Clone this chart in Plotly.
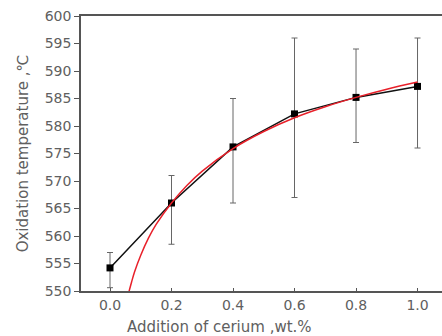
import plotly.graph_objects as go

# Measured data
cerium = [0.0, 0.2, 0.4, 0.6, 0.8, 1.0]
temperature = [554.2, 566.0, 576.2, 582.2, 585.2, 587.2]
err_plus = [2.8, 5.0, 8.8, 13.8, 8.8, 8.8]
err_minus = [3.6, 7.5, 10.2, 15.2, 8.2, 11.2]

# Fitted curve
fit_x = [0.052, 0.06, 0.07, 0.08, 0.1, 0.125, 0.15, 0.2, 0.25, 0.3, 0.4, 0.5, 0.6, 0.7, 0.8, 0.9, 1.0]
fit_y = [547.6, 549.5, 551.6, 553.5, 556.5, 559.6, 562.1, 566.0, 569.2, 571.8, 575.9, 579.0, 581.5, 583.5, 585.2, 586.7, 588.0]

x_ticks = [0.0, 0.2, 0.4, 0.6, 0.8, 1.0]
y_ticks = [550, 555, 560, 565, 570, 575, 580, 585, 590, 595, 600]
x_title = "Addition of cerium ,wt.%"
y_title = "Oxidation temperature ,\u2103"

text_col = "#606060"
axis_col = "#555555"

fig = go.Figure()
fig.add_trace(go.Scatter(
    x=cerium, y=temperature, mode="lines+markers",
    line=dict(color="#111111", width=1.5),
    marker=dict(symbol="square", size=7, color="#000000"),
    error_y=dict(type="data", symmetric=False, array=err_plus, arrayminus=err_minus,
                 color="#666666", thickness=1, width=3),
    showlegend=False, cliponaxis=True,
))
fig.add_trace(go.Scatter(
    x=fit_x, y=fit_y, mode="lines",
    line=dict(color="#e8202a", width=1.5, shape="spline"),
    showlegend=False,
))

fig.update_layout(
    width=442, height=336,
    margin=dict(l=81, r=0, t=16, b=45),
    plot_bgcolor="white", paper_bgcolor="white",
    font=dict(family="DejaVu Sans, sans-serif", size=14, color=text_col),
)
# x-axis title: the original figure is cropped on the right, so its title sits left of the visible centre
fig.add_annotation(
    text=x_title, xref="paper", yref="paper", x=0.385, y=-0.131,
    xanchor="center", yanchor="middle", showarrow=False,
    font=dict(size=15, color=text_col),
)
fig.update_xaxes(
    range=[-0.0943, 1.0796], tickvals=x_ticks, ticktext=[f"{v:.1f}" for v in x_ticks],
    ticks="inside", ticklen=3, tickwidth=1, tickcolor=axis_col,
    showline=True, linecolor=axis_col, linewidth=1.5, mirror=True,
    showgrid=False, zeroline=False, automargin=False,
    tickfont=dict(size=14),
)
fig.update_yaxes(
    range=[550, 600], tickvals=y_ticks,
    ticks="outside", ticklen=5, tickwidth=1, tickcolor=axis_col,
    showline=True, linecolor=axis_col, linewidth=1.5,
    showgrid=False, zeroline=False, automargin=False,
    title=dict(text=y_title, standoff=12, font=dict(size=15)),
    tickfont=dict(size=14),
)

fig.write_html(
    "out.html",
    config={"displayModeBar": False},
    post_script="document.body.style.margin='0';document.body.style.overflow='hidden';",
)
